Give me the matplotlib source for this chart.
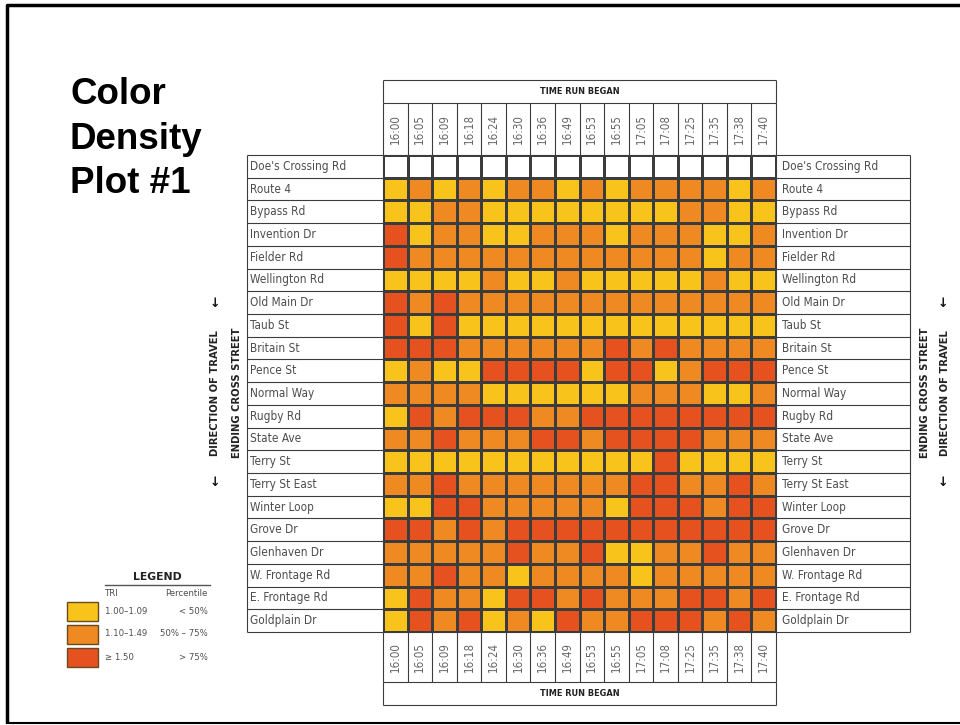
import numpy as np
import matplotlib.pyplot as plt
from matplotlib.colors import ListedColormap
from matplotlib.patches import Rectangle

# ---- data ----
streets = ["Doe's Crossing Rd", "Route 4", "Bypass Rd", "Invention Dr", "Fielder Rd",
           "Wellington Rd", "Old Main Dr", "Taub St", "Britain St", "Pence St",
           "Normal Way", "Rugby Rd", "State Ave", "Terry St", "Terry St East",
           "Winter Loop", "Grove Dr", "Glenhaven Dr", "W. Frontage Rd",
           "E. Frontage Rd", "Goldplain Dr"]
times = ["16:00", "16:05", "16:09", "16:18", "16:24", "16:30", "16:36", "16:49",
         "16:53", "16:55", "17:05", "17:08", "17:25", "17:35", "17:38", "17:40"]

# TRI class per cell: 1 = 1.00-1.09, 2 = 1.10-1.49, 3 = >= 1.50
does_crossing = [None] * 16
route4     = [1, 2, 1, 2, 1, 2, 2, 1, 2, 1, 2, 2, 2, 2, 1, 2]
bypass     = [1, 1, 2, 2, 1, 1, 1, 1, 1, 1, 1, 1, 2, 2, 1, 1]
invention  = [3, 1, 2, 2, 1, 1, 2, 2, 2, 1, 2, 2, 2, 1, 1, 2]
fielder    = [3, 2, 2, 2, 2, 2, 2, 2, 2, 2, 2, 2, 2, 1, 2, 2]
wellington = [1, 1, 1, 1, 2, 1, 1, 2, 1, 1, 1, 1, 1, 2, 1, 1]
old_main   = [3, 2, 3, 2, 2, 2, 2, 2, 2, 2, 2, 2, 2, 2, 2, 2]
taub       = [3, 1, 3, 1, 1, 1, 1, 1, 1, 1, 1, 1, 1, 1, 1, 1]
britain    = [3, 3, 3, 2, 2, 2, 2, 2, 2, 3, 2, 3, 2, 2, 2, 2]
pence      = [1, 2, 1, 1, 3, 3, 3, 3, 1, 3, 3, 1, 2, 3, 3, 3]
normal     = [2, 2, 2, 2, 1, 1, 1, 1, 1, 1, 2, 2, 2, 1, 1, 2]
rugby      = [1, 3, 2, 3, 3, 3, 2, 2, 3, 3, 3, 3, 3, 3, 3, 3]
state      = [2, 2, 3, 2, 2, 2, 3, 3, 2, 3, 3, 3, 3, 2, 2, 2]
terry      = [1, 1, 1, 1, 1, 1, 1, 1, 1, 1, 1, 3, 1, 1, 1, 1]
terry_east = [2, 2, 3, 2, 2, 2, 2, 2, 2, 2, 3, 3, 2, 2, 3, 2]
winter     = [1, 1, 3, 3, 2, 2, 2, 2, 2, 1, 3, 3, 3, 2, 3, 3]
grove      = [3, 3, 2, 3, 2, 3, 3, 3, 3, 3, 3, 3, 3, 3, 3, 3]
glenhaven  = [2, 2, 2, 2, 2, 3, 2, 2, 3, 1, 1, 2, 2, 3, 2, 2]
w_frontage = [2, 2, 3, 2, 2, 1, 2, 2, 2, 2, 1, 2, 2, 2, 2, 2]
e_frontage = [1, 3, 2, 2, 1, 3, 3, 2, 3, 2, 2, 2, 3, 3, 2, 3]
goldplain  = [1, 3, 2, 3, 1, 2, 1, 3, 2, 2, 3, 3, 3, 2, 3, 2]

legend_tri = ["1.00\u20131.09", "1.10\u20131.49", "\u2265 1.50"]
legend_pct = ["< 50%", "50% \u2013 75%", "> 75%"]

colors = ["#F8C31A", "#EF8922", "#E5511F"]

rows = [does_crossing, route4, bypass, invention, fielder, wellington, old_main,
        taub, britain, pence, normal, rugby, state, terry, terry_east, winter,
        grove, glenhaven, w_frontage, e_frontage, goldplain]
grid = np.array([[np.nan if v is None else v for v in r] for r in rows], dtype=float)

# ---- figure ----
W, H = 960, 725
fig = plt.figure(figsize=(W / 100, H / 100), dpi=100)
cond = dict(family='DejaVu Sans', fontstretch='condensed')
line_c = '#3c3c3c'
txt_c = '#4d4d4d'

bg = fig.add_axes([0, 0, 1, 1])
bg.set_xlim(0, W)
bg.set_ylim(H, 0)
bg.axis('off')

# slide frame
bg.plot([7, 7, W + 5], [723, 5, 5], color='black', lw=2.5, solid_capstyle='butt')
bg.plot([7, W + 5], [723, 723], color='black', lw=1.5)

bg.text(70, 139, "Color\nDensity\nPlot #1", fontsize=26.5, fontweight='bold',
        family='Liberation Sans', ha='left', va='center', linespacing=1.36)

# legend
bg.text(157, 577, "LEGEND", fontsize=7.8, fontweight='bold', family='DejaVu Sans',
        ha='center', va='center', color='#222')
bg.plot([105, 210], [585, 585], color='#555', lw=1)
bg.text(105, 593, "TRI", fontsize=6.8, ha='left', va='center', color=txt_c, **cond)
bg.text(208, 593, "Percentile", fontsize=6.8, ha='right', va='center', color=txt_c, **cond)
for i, (c, t, p) in enumerate(zip(colors, legend_tri, legend_pct)):
    yc = 611 + i * 23
    bg.add_patch(Rectangle((67, yc - 9.5), 31, 19, facecolor=c, edgecolor='#6a4a20', lw=1))
    bg.text(105, yc, t, fontsize=6.8, ha='left', va='center', color=txt_c, **cond)
    bg.text(208, yc, p, fontsize=6.8, ha='right', va='center', color=txt_c, **cond)

# side captions
for x, s in [(215, "DIRECTION OF TRAVEL"), (237, "ENDING CROSS STREET"),
             (925, "ENDING CROSS STREET"), (945, "DIRECTION OF TRAVEL")]:
    bg.text(x, 393, s, rotation=90, fontsize=8, fontweight='bold',
            ha='center', va='center', color='#222', **cond)
for x in (215, 943):
    for y in (303, 482):
        bg.text(x, y, "\u2193", fontsize=9, fontweight='bold', ha='center', va='center',
                color='#111')

# heat grid
ax = fig.add_axes([383 / W, 1 - 632 / H, 393 / W, 477 / H])
cmap = ListedColormap(colors)
cmap.set_bad('white')
ax.pcolormesh(np.ma.masked_invalid(grid), cmap=cmap, vmin=0.5, vmax=3.5,
              edgecolors=line_c, linewidth=0.8)
ax.set_xlim(0, len(times))
ax.set_ylim(len(streets), 0)
ax.axis('off')

nr, nc = len(streets), len(times)
xl, xr = -5.537, nc + 5.455          # label column edges
yt0, yt1 = -3.30, -2.29              # top header box
yb0, yb1 = nr + 2.20, nr + 3.21      # bottom header box
kw = dict(color=line_c, lw=0.8, clip_on=False)

ax.vlines(np.arange(nc + 1), yt1, 0, **kw)
ax.vlines(np.arange(nc + 1), nr, yb0, **kw)
ax.vlines([0, nc], yt0, yt1, **kw)
ax.vlines([0, nc], yb0, yb1, **kw)
ax.hlines([yt0, yt1], 0, nc, **kw)
ax.hlines([yb0, yb1], 0, nc, **kw)
ax.hlines(np.arange(nr + 1), xl, 0, **kw)
ax.hlines(np.arange(nr + 1), nc, xr, **kw)
ax.vlines([xl, xr], 0, nr, **kw)
ax.vlines(np.arange(nc + 1), 0, nr, **kw)
ax.hlines(np.arange(nr + 1), 0, nc, **kw)

for y in ((yt0 + yt1) / 2, (yb0 + yb1) / 2):
    ax.text(nc / 2, y, "TIME RUN BEGAN", fontsize=6.6, fontweight='bold',
            ha='center', va='center', color='#222', clip_on=False, **cond)

for j, t in enumerate(times):
    ax.text(j + 0.5, yt1 / 2, t, rotation=90, fontsize=8.3,
            ha='center', va='center', color='#666', clip_on=False, **cond)
    ax.text(j + 0.5, (nr + yb0) / 2, t, rotation=90, fontsize=8.3,
            ha='center', va='center', color='#666', clip_on=False, **cond)

for i, s in enumerate(streets):
    ax.text(xl + 0.13, i + 0.5, s, fontsize=8.5, ha='left',
            va='center', color=txt_c, clip_on=False, **cond)
    ax.text(nc + 0.24, i + 0.5, s, fontsize=8.5, ha='left',
            va='center', color=txt_c, clip_on=False, **cond)

fig.savefig("out.png", dpi=100)
